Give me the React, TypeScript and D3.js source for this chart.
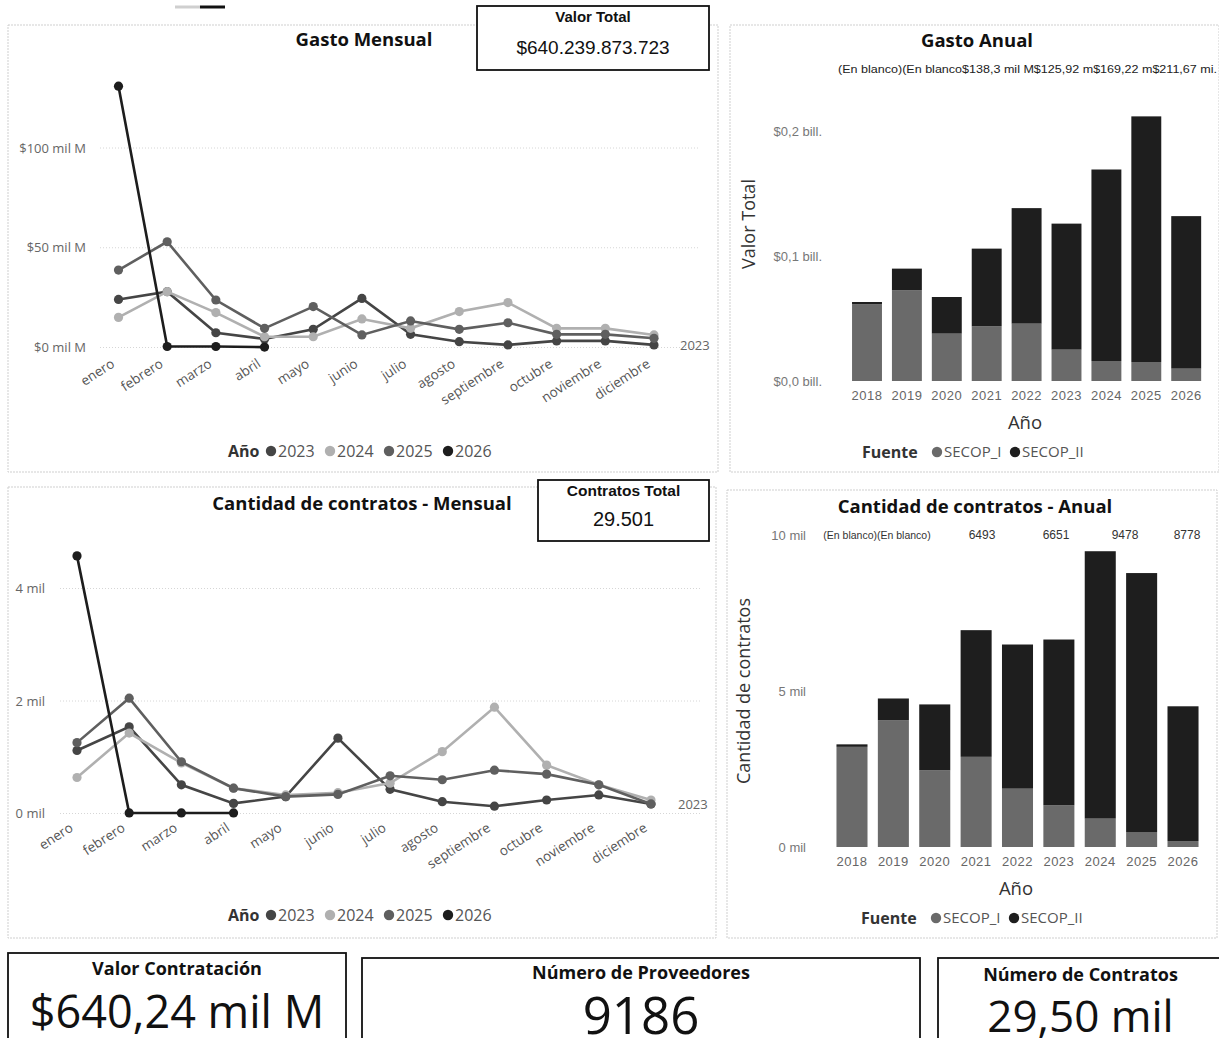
import React from "react";
import * as d3 from "d3";

// ---------- DATA ----------
const months = ["enero","febrero","marzo","abril","mayo","junio","julio","agosto","septiembre","octubre","noviembre","diciembre"];
const lineYears = ["2023","2024","2025","2026"];

// Gasto mensual (mil M)
const gasto2023 = [24.1, 28.0, 7.4, 4.3, 9.1, 24.6, 6.6, 2.9, 1.3, 3.3, 3.3, 1.3];
const gasto2024 = [15.1, 28.0, 17.5, 5.4, 5.4, 14.3, 9.6, 18.0, 22.5, 9.6, 9.6, 6.3];
const gasto2025 = [38.8, 53.0, 23.8, 9.6, 20.5, 6.3, 13.3, 9.1, 12.4, 6.6, 6.6, 4.6];
const gasto2026 = [131.0, 0.5, 0.5, 0.2, null, null, null, null, null, null, null, null];

// Contratos mensual (mil)
const contratos2023 = [1.12, 1.54, 0.51, 0.18, 0.30, 1.34, 0.43, 0.21, 0.13, 0.24, 0.33, 0.17];
const contratos2024 = [0.64, 1.43, 0.90, 0.45, 0.33, 0.37, 0.54, 1.10, 1.89, 0.86, 0.51, 0.24];
const contratos2025 = [1.26, 2.05, 0.92, 0.45, 0.30, 0.34, 0.67, 0.60, 0.77, 0.70, 0.51, 0.17];
const contratos2026 = [4.58, 0.01, 0.01, 0.01, null, null, null, null, null, null, null, null];

// Anual
const barYears = ["2018","2019","2020","2021","2022","2023","2024","2025","2026"];
const fuentes = ["SECOP_I","SECOP_II"];
const gastoSecopI = [61.5, 72.6, 37.9, 43.8, 45.9, 25.1, 16.0, 15.2, 9.9];
const gastoSecopII = [1.7, 17.3, 29.3, 62.1, 92.4, 100.8, 153.2, 196.5, 122.0];
const contratosSecopI = [3.21, 4.06, 2.46, 2.89, 1.87, 1.34, 0.91, 0.48, 0.19];
const contratosSecopII = [0.08, 0.70, 2.11, 4.06, 4.62, 5.31, 8.57, 8.30, 4.32];

const gastoTotalLabels = ["(En blanco)", "(En blanco", "$138,3 mil M", "$125,92 m", "$169,22 m", "$211,67 mi."];
const contratosTotalLabels = ["(En blanco)(En blanco)", "6493", "6651", "9478", "8778"];

const gastoTicks = [0, 50, 100];
const gastoTickLabels = ["$0 mil M", "$50 mil M", "$100 mil M"];
const contratosTicks = [0, 2, 4];
const contratosTickLabels = ["0 mil", "2 mil", "4 mil"];
const gastoAnualTicks = [0, 100, 200];
const gastoAnualTickLabels = ["$0,0 bill.", "$0,1 bill.", "$0,2 bill."];
const contratosAnualTicks = [0, 5, 10];
const contratosAnualTickLabels = ["0 mil", "5 mil", "10 mil"];

const yearColors = ["#454545", "#b0b0b0", "#5f5f5f", "#1d1d1d"];
const fuenteColors = ["#6a6a6a", "#1e1e1e"];

const FONT = "'Open Sans', 'Noto Sans', sans-serif";
const ARIAL = "'Liberation Sans', Arial, sans-serif";

type Series = (number | null)[];

function LineChart(props: {
  series: Series[]; xRange: [number, number]; y0: number; y1: number; yMax: number;
  ticks: number[]; tickLabels: string[]; tickX: number; gridX: [number, number];
  labelY: number; endLabel: { x: number; y: number };
}) {
  const { series, xRange, y0, y1, yMax, ticks, tickLabels, tickX, gridX, labelY, endLabel } = props;
  const x = d3.scalePoint<string>().domain(months).range(xRange);
  const y = d3.scaleLinear().domain([0, yMax]).range([y0, y1]);
  const line = d3.line<number | null>()
    .defined((d) => d !== null)
    .x((_, i) => x(months[i]) as number)
    .y((d) => y(d as number));
  return (
    <g>
      {ticks.map((t, i) => (
        <g key={i}>
          <line x1={gridX[0]} x2={gridX[1]} y1={y(t)} y2={y(t)} stroke="#d6d6d6" strokeDasharray="1,2" strokeWidth={1} />
          <text x={tickX} y={y(t)} dy="0.35em" textAnchor="end" fontSize={13} fill="#666" fontFamily={FONT}>{tickLabels[i]}</text>
        </g>
      ))}
      {months.map((m) => (
        <text key={m} transform={`translate(${(x(m) as number) - 3},${labelY}) rotate(-33)`} textAnchor="end"
          fontSize={13.5} fill="#555" fontFamily={FONT}>{m}</text>
      ))}
      {series.map((s, si) => (
        <g key={si}>
          <path d={line(s) || ""} fill="none" stroke={yearColors[si]} strokeWidth={2.6} />
          {s.map((v, i) => v === null ? null : (
            <circle key={i} cx={x(months[i]) as number} cy={y(v)} r={4.6} fill={yearColors[si]} />
          ))}
        </g>
      ))}
      <text x={endLabel.x} y={endLabel.y} dy="0.35em" fontSize={13} fill="#666" fontFamily={FONT}>2023</text>
    </g>
  );
}

function YearLegend(props: { x: number; y: number }) {
  const { x, y } = props;
  const offsets = [38, 97, 156, 215];
  return (
    <g transform={`translate(${x},${y})`}>
      <text x={0} y={0} dy="0.35em" fontSize={16} fontWeight={700} fill="#333" fontFamily={FONT}>Año</text>
      {lineYears.map((yr, i) => (
        <g key={yr}>
          <circle cx={offsets[i] + 5} cy={0} r={5.2} fill={yearColors[i]} />
          <text x={offsets[i] + 12} y={0} dy="0.35em" fontSize={16} fill="#555" fontFamily={FONT}>{yr}</text>
        </g>
      ))}
    </g>
  );
}

function FuenteLegend(props: { x: number; y: number }) {
  const { x, y } = props;
  const offsets = [70, 148];
  return (
    <g transform={`translate(${x},${y})`}>
      <text x={0} y={0} dy="0.35em" fontSize={16} fontWeight={700} fill="#333" fontFamily={FONT}>Fuente</text>
      {fuentes.map((f, i) => (
        <g key={f}>
          <circle cx={offsets[i] + 5} cy={0} r={5.2} fill={fuenteColors[i]} />
          <text x={offsets[i] + 12} y={0} dy="0.35em" fontSize={15} fill="#555" fontFamily={FONT}>{f}</text>
        </g>
      ))}
    </g>
  );
}

function BarChart(props: {
  first: number[]; second: number[]; xRange: [number, number]; y0: number; y1: number; yMax: number;
  ticks: number[]; tickLabels: string[]; tickX: number; xLabelY: number;
}) {
  const { first, second, xRange, y0, y1, yMax, ticks, tickLabels, tickX, xLabelY } = props;
  const x = d3.scaleBand<string>().domain(barYears).range(xRange).paddingInner(0.25).paddingOuter(0.125);
  const y = d3.scaleLinear().domain([0, yMax]).range([y0, y1]);
  const rows = barYears.map((yr, i) => ({ year: yr, SECOP_I: first[i], SECOP_II: second[i] }));
  const stacked = d3.stack<any>().keys(fuentes)(rows);
  return (
    <g>
      {ticks.map((t, i) => (
        <text key={i} x={tickX} y={y(t)} dy="0.35em" textAnchor="end" fontSize={13} fill="#777" fontFamily={ARIAL}>{tickLabels[i]}</text>
      ))}
      {stacked.map((layer, li) => (
        <g key={li}>
          {layer.map((d: any, i: number) => (
            <rect key={i} x={x(barYears[i]) as number} width={x.bandwidth()} y={y(d[1])} height={Math.max(0, y(d[0]) - y(d[1]))} fill={fuenteColors[li]} />
          ))}
        </g>
      ))}
      {barYears.map((yr) => (
        <text key={yr} x={(x(yr) as number) + x.bandwidth() / 2} y={xLabelY} dy="0.35em" textAnchor="middle" fontSize={13} letterSpacing={0.5} fill="#666" fontFamily={ARIAL}>{yr}</text>
      ))}
    </g>
  );
}

function Panel(props: { x: number; y: number; w: number; h: number }) {
  return <rect x={props.x} y={props.y} width={props.w} height={props.h} fill="none" stroke="#cfcfcf" strokeWidth={1} strokeDasharray="2,1" />;
}

function Card(props: { x: number; y: number; w: number; h: number; title: string; value: string; titleSize: number; valueSize: number; titleY: number; valueY: number; titleFont: string; valueFont: string; titleWeight: number }) {
  const p = props;
  return (
    <g>
      <rect x={p.x} y={p.y} width={p.w} height={p.h} fill="#fff" stroke="#111" strokeWidth={1.8} />
      <text x={p.x + p.w / 2} y={p.titleY} textAnchor="middle" fontSize={p.titleSize} fontWeight={p.titleWeight} fill="#111" fontFamily={p.titleFont}>{p.title}</text>
      <text x={p.x + p.w / 2} y={p.valueY} textAnchor="middle" fontSize={p.valueSize} fill="#111" fontFamily={p.valueFont}>{p.value}</text>
    </g>
  );
}

export default function App() {
  return (
    <svg width={1219} height={1038} viewBox="0 0 1219 1038" style={{ position: "absolute", left: 0, top: 0, background: "#fff" }}>
      <rect x={0} y={0} width={1219} height={1038} fill="#fff" />
      {/* small slicer mark */}
      <line x1={175} x2={200} y1={7} y2={7} stroke="#cfcfcf" strokeWidth={3} />
      <line x1={200} x2={225} y1={7} y2={7} stroke="#111" strokeWidth={3} />

      {/* Panels */}
      <Panel x={8} y={25} w={710} h={447} />
      <Panel x={730} y={25} w={489} h={447} />
      <Panel x={8} y={487} w={708} h={451} />
      <Panel x={727} y={490} w={490} h={448} />

      {/* Gasto Mensual */}
      <text x={364} y={46} textAnchor="middle" fontSize={18.5} fontWeight={700} fill="#111" fontFamily={FONT}>Gasto Mensual</text>
      <LineChart series={[gasto2023, gasto2024, gasto2025, gasto2026]} xRange={[118.5, 654]} y0={347.5} y1={148} yMax={100}
        ticks={gastoTicks} tickLabels={gastoTickLabels} tickX={86} gridX={[100, 700]} labelY={366} endLabel={{ x: 680, y: 345 }} />
      <YearLegend x={228} y={451} />
      <Card x={477} y={6} w={232} h={64} title="Valor Total" value="$640.239.873.723" titleSize={15} valueSize={19} titleY={22} valueY={54} titleFont={ARIAL} valueFont={ARIAL} titleWeight={700} />

      {/* Gasto Anual */}
      <text x={977} y={47} textAnchor="middle" fontSize={18.5} fontWeight={700} fill="#111" fontFamily={FONT}>Gasto Anual</text>
      <text x={838} y={69} dy="0.35em" fontSize={10} fill="#222" fontFamily={ARIAL} textLength={379} lengthAdjust="spacingAndGlyphs">{gastoTotalLabels.join("")}</text>
      <text transform="translate(749,224) rotate(-90)" textAnchor="middle" dy="0.35em" fontSize={18} fill="#333" fontFamily={FONT}>Valor Total</text>
      <BarChart first={gastoSecopI} second={gastoSecopII} xRange={[847.05, 1206.15]} y0={381} y1={131} yMax={200}
        ticks={gastoAnualTicks} tickLabels={gastoAnualTickLabels} tickX={822} xLabelY={395} />
      <text x={1025} y={423} textAnchor="middle" dy="0.35em" fontSize={18.5} fill="#333" fontFamily={FONT}>Año</text>
      <FuenteLegend x={862} y={452} />

      {/* Cantidad de contratos - Mensual */}
      <text x={362} y={510} textAnchor="middle" fontSize={18.5} fontWeight={700} fill="#111" fontFamily={FONT}>Cantidad de contratos - Mensual</text>
      <LineChart series={[contratos2023, contratos2024, contratos2025, contratos2026]} xRange={[77, 651]} y0={813.5} y1={588.5} yMax={4}
        ticks={contratosTicks} tickLabels={contratosTickLabels} tickX={45} gridX={[60, 700]} labelY={830} endLabel={{ x: 678, y: 804 }} />
      <YearLegend x={228} y={915} />
      <Card x={538} y={480} w={171} h={61} title="Contratos Total" value="29.501" titleSize={15.5} valueSize={20} titleY={496} valueY={526} titleFont={ARIAL} valueFont={ARIAL} titleWeight={700} />

      {/* Cantidad de contratos - Anual */}
      <text x={975} y={513} textAnchor="middle" fontSize={18.5} fontWeight={700} fill="#111" fontFamily={FONT}>Cantidad de contratos - Anual</text>
      <text x={877} y={535} dy="0.35em" textAnchor="middle" fontSize={10.5} fill="#333" fontFamily={ARIAL}>{contratosTotalLabels[0]}</text>
      {[982, 1056, 1125, 1187].map((cx, i) => (
        <text key={i} x={cx} y={535} dy="0.35em" textAnchor="middle" fontSize={12} fill="#333" fontFamily={ARIAL}>{contratosTotalLabels[i + 1]}</text>
      ))}
      <text transform="translate(744,691) rotate(-90)" textAnchor="middle" dy="0.35em" fontSize={18} fill="#333" fontFamily={FONT}>Cantidad de contratos</text>
      <BarChart first={contratosSecopI} second={contratosSecopII} xRange={[831.3, 1203.7]} y0={847} y1={535} yMax={10}
        ticks={contratosAnualTicks} tickLabels={contratosAnualTickLabels} tickX={806} xLabelY={861} />
      <text x={1016} y={889} textAnchor="middle" dy="0.35em" fontSize={18.5} fill="#333" fontFamily={FONT}>Año</text>
      <FuenteLegend x={861} y={918} />

      {/* KPI cards */}
      <Card x={8} y={953} w={338} h={90} title="Valor Contratación" value="$640,24 mil M" titleSize={18} valueSize={45} titleY={975} valueY={1028} titleFont={FONT} valueFont={FONT} titleWeight={700} />
      <Card x={362} y={958} w={558} h={85} title="Número de Proveedores" value="9186" titleSize={18} valueSize={51} titleY={979} valueY={1034} titleFont={FONT} valueFont={FONT} titleWeight={700} />
      <Card x={938} y={958} w={285} h={85} title="Número de Contratos" value="29,50 mil" titleSize={18} valueSize={44} titleY={981} valueY={1032} titleFont={FONT} valueFont={FONT} titleWeight={700} />
    </svg>
  );
}
